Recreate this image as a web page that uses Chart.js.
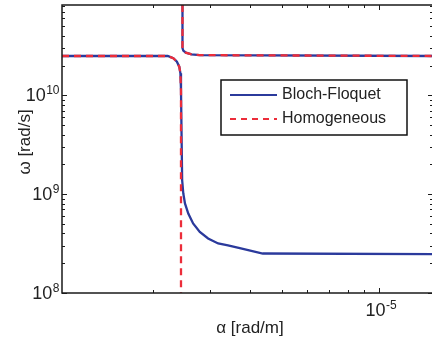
<!DOCTYPE html>
<html>
<head>
<meta charset="utf-8">
<script src="https://cdn.jsdelivr.net/npm/chart.js@4.4.1/dist/chart.umd.min.js"></script>
<style>
  html, body { margin: 0; padding: 0; background: #fff; overflow: hidden; }
  #wrap { position: relative; width: 440px; height: 340px; }
</style>
</head>
<body>
<div id="wrap"><canvas id="myChart"></canvas></div>
<script>
//! DATA
//* Bloch-Floquet, lower branch: flat band, drop, then flat tail
const bfLowAlpha = [1.045e-6, 2.22e-6, 2.31e-6, 2.37e-6, 2.41e-6, 2.43e-6, 2.44e-6, 2.46e-6, 2.48e-6, 2.51e-6, 2.57e-6, 2.66e-6, 2.79e-6, 2.96e-6, 3.18e-6, 3.41e-6, 3.71e-6, 4.37e-6, 1.47e-5];
const bfLowOmega = [2.50e10, 2.50e10, 2.37e10, 2.19e10, 1.95e10, 1.67e10, 1.13e10, 1.39e9, 1.02e9, 8.05e8, 6.37e8, 5.05e8, 4.15e8, 3.56e8, 3.17e8, 3.04e8, 2.84e8, 2.51e8, 2.47e8];

//* Homogeneous, lower branch: flat band then vertical asymptote
const homLowAlpha = [1.045e-6, 2.22e-6, 2.31e-6, 2.37e-6, 2.41e-6, 2.43e-6, 2.44e-6, 2.44e-6];
const homLowOmega = [2.50e10, 2.50e10, 2.37e10, 2.19e10, 1.95e10, 1.67e10, 1.13e10, 1.0e8];

//* upper branch (same for both models)
const upAlpha = [2.466e-6, 2.466e-6, 2.48e-6, 2.526e-6, 2.63e-6, 2.79e-6, 1.47e-5];
const upOmega = [8.2e10, 3.01e10, 2.84e10, 2.70e10, 2.60e10, 2.55e10, 2.50e10];

//* axis ticks
const xMajor = [1e-5];
const xMajorExp = ['-5'];
const yMajor = [1e8, 1e9, 1e10];
const yMajorExp = ['8', '9', '10'];

const seriesNames = ['Bloch-Floquet', 'Homogeneous'];
const blue = '#2b3a9c';
const red = '#ec2d3a';
const font = '"Liberation Sans", Arial, Helvetica, sans-serif';

function toPoints(xs, ys) {
    return xs.map((x, i) => ({ x: x, y: ys[i] }));
}
//* null point = break between branches
const gap = { x: 2.45e-6, y: null };

const bfData = toPoints(bfLowAlpha, bfLowOmega).concat([gap], toPoints(upAlpha, upOmega));
const homData = toPoints(homLowAlpha, homLowOmega).concat([gap], toPoints(upAlpha, upOmega));

//! MATLAB-like frame, inward ticks, tick labels, titles and legend
function minorTicks(min, max) {
    const out = [];
    for (let e = Math.floor(Math.log10(min)); e <= Math.ceil(Math.log10(max)); e++) {
        for (let m = 1; m < 10; m++) {
            const v = m * Math.pow(10, e);
            if (v >= min && v <= max) out.push({ v: v, major: m === 1 });
        }
    }
    return out;
}

function drawPow(ctx, exp, x, y, align) {
    //* "10" at 18px + raised exponent at 12px; y = vertical centre of "10"
    ctx.font = '18px ' + font;
    const wb = ctx.measureText('10').width;
    ctx.font = '12px ' + font;
    const we = ctx.measureText(exp).width;
    let left = align === 'right' ? x - wb - we : x - (wb + we) / 2;
    ctx.textAlign = 'left';
    ctx.textBaseline = 'alphabetic';
    ctx.font = '18px ' + font;
    ctx.fillText('10', left, y + 6.5);
    ctx.font = '12px ' + font;
    ctx.fillText(exp, left + wb + 0.5, y - 0.5);
}

const matlabAxes = {
    id: 'matlabAxes',
    afterDraw(chart) {
        const ctx = chart.ctx;
        const a = chart.chartArea;
        const xs = chart.scales.x;
        const ys = chart.scales.y;
        ctx.save();
        ctx.strokeStyle = '#1a1a1a';
        ctx.fillStyle = '#1a1a1a';
        ctx.lineWidth = 1.5;
        ctx.strokeRect(a.left, a.top, a.right - a.left, a.bottom - a.top);

        ctx.lineWidth = 1;
        minorTicks(xs.min, xs.max).forEach(t => {
            const px = Math.round(xs.getPixelForValue(t.v)) + 0.5;
            const len = t.major ? 5 : 3;
            ctx.beginPath();
            ctx.moveTo(px, a.bottom); ctx.lineTo(px, a.bottom - len);
            ctx.moveTo(px, a.top); ctx.lineTo(px, a.top + len);
            ctx.stroke();
        });
        minorTicks(ys.min, ys.max).forEach(t => {
            const py = Math.round(ys.getPixelForValue(t.v)) + 0.5;
            const len = t.major ? 5 : 3;
            ctx.beginPath();
            ctx.moveTo(a.left, py); ctx.lineTo(a.left + len, py);
            ctx.moveTo(a.right, py); ctx.lineTo(a.right - len, py);
            ctx.stroke();
        });

        //* tick labels
        ctx.fillStyle = '#222';
        yMajor.forEach((v, i) => {
            drawPow(ctx, yMajorExp[i], a.left - 3, ys.getPixelForValue(v) - 1, 'right');
        });
        xMajor.forEach((v, i) => {
            drawPow(ctx, xMajorExp[i], xs.getPixelForValue(v) + 2, a.bottom + 16, 'center');
        });

        //* axis titles
        ctx.font = '17px ' + font;
        ctx.textAlign = 'center';
        ctx.textBaseline = 'middle';
        ctx.fillText('\u03b1 [rad/m]', 250, 328);
        ctx.save();
        ctx.translate(25, 142);
        ctx.rotate(-Math.PI / 2);
        ctx.fillText('\u03c9 [rad/s]', 0, 0);
        ctx.restore();

        //* legend box
        ctx.fillStyle = '#fff';
        ctx.fillRect(221, 80, 186, 55);
        ctx.strokeStyle = '#111';
        ctx.lineWidth = 1.5;
        ctx.strokeRect(221, 80, 186, 55);
        ctx.lineWidth = 2.2;
        ctx.strokeStyle = blue;
        ctx.beginPath(); ctx.moveTo(230, 95); ctx.lineTo(277, 95); ctx.stroke();
        ctx.strokeStyle = red;
        ctx.setLineDash([6, 5]);
        ctx.beginPath(); ctx.moveTo(230, 119); ctx.lineTo(277, 119); ctx.stroke();
        ctx.setLineDash([]);
        ctx.fillStyle = '#222';
        ctx.font = '16px ' + font;
        ctx.textAlign = 'left';
        ctx.fillText(seriesNames[0], 282, 95);
        ctx.fillText(seriesNames[1], 282, 119);
        ctx.restore();
    }
};

//! CHART JS CONFIG
const config = {
    type: 'line',
    data: {
        datasets: [{
            label: seriesNames[0],
            data: bfData,
            borderColor: blue,
            borderWidth: 2.3,
            pointRadius: 0,
            tension: 0,
            spanGaps: false,
            order: 2
        },
        {
            label: seriesNames[1],
            data: homData,
            borderColor: red,
            borderWidth: 2.3,
            borderDash: [7, 5],
            pointRadius: 0,
            tension: 0,
            spanGaps: false,
            order: 1
        }]
    },
    options: {
        responsive: true,
        maintainAspectRatio: false,
        animation: false,
        layout: { padding: { left: 62, top: 5, right: 7, bottom: 47 } },
        plugins: { legend: { display: false }, tooltip: { enabled: false } },
        scales: {
            x: { type: 'logarithmic', min: 1.045e-6, max: 1.47e-5, display: false },
            y: { type: 'logarithmic', min: 1e8, max: 8.2e10, display: false }
        }
    },
    plugins: [matlabAxes]
};

//! CREATE CHART
const myChart = new Chart(document.getElementById('myChart'), config);
</script>
</body>
</html>
